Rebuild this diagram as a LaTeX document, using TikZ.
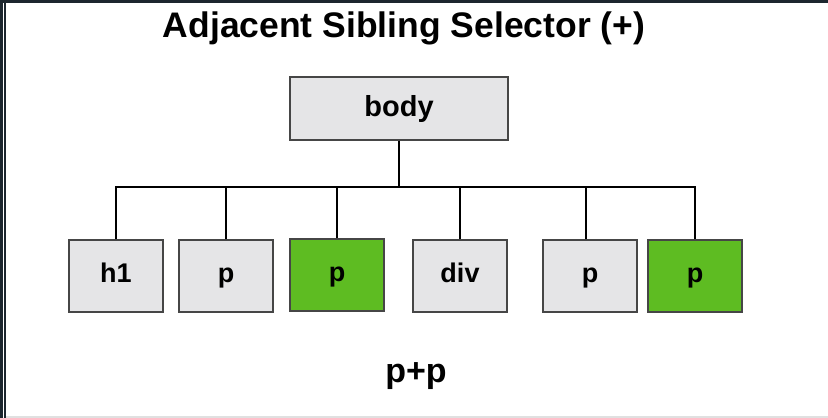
\documentclass[tikz,border=0pt]{standalone}
\usepackage{fontspec}
\setmainfont{Liberation Sans}
\definecolor{boxgray}{RGB}{229,229,231}
\definecolor{boxedge}{RGB}{70,70,70}
\definecolor{selgreen}{RGB}{94,188,34}
\definecolor{framedark}{RGB}{28,38,46}
\begin{document}
\begin{tikzpicture}[x=1pt,y=-1pt,
  elem/.style={draw=boxedge, line width=1.3pt, fill=boxgray, minimum width=94pt, minimum height=72pt, inner sep=0pt, text height=20pt, text depth=7pt, font=\fontsize{27}{30}\selectfont\bfseries},
  chosen/.style={elem, fill=selgreen},
  link/.style={draw=black, line width=2pt}]
\useasboundingbox (0,0) rectangle (828,418);
\fill[white] (0,0) rectangle (828,418);
% frame
\fill[framedark] (0,0) rectangle (828,2.5);
\fill[framedark] (0,0) rectangle (3,418);
\fill[framedark] (4.3,0) rectangle (6,418);
\fill[black!12] (6,416) rectangle (828,418);
% title
\node[font=\fontsize{35.5}{40}\selectfont\bfseries] (title) at (404,28) {Adjacent Sibling Selector (+)};
% body
\node[elem, minimum width=218pt, minimum height=63pt, text height=21pt, text depth=5pt, font=\fontsize{29}{32}\selectfont\bfseries] (body) at (399,108.5) {body};
% children
\node[elem]   (h1)  at (116,276) {h1};
\node[elem]   (p1)  at (226,276) {p};
\node[chosen] (p2)  at (337,275) {p};
\node[elem]   (div) at (460,276) {div};
\node[elem]   (p3)  at (590,276) {p};
\node[chosen] (p4)  at (695,276) {p};
% connectors
\coordinate (bus) at (399,187);
\draw[link] (body.south) -- (bus);
\draw[link] (h1.north) -- (h1.north |- bus) -- (p4.north |- bus) -- (p4.north);
\foreach \c in {p1,p2,div} \draw[link] (\c.north) -- (\c.north |- bus);
\draw[link] ([xshift=-4pt]p3.north) -- ([xshift=-4pt]p3.north |- bus);
% caption
\node[font=\fontsize{34}{38}\selectfont\bfseries] (cap) at (416,376) {p+p};
\end{tikzpicture}
\end{document}
